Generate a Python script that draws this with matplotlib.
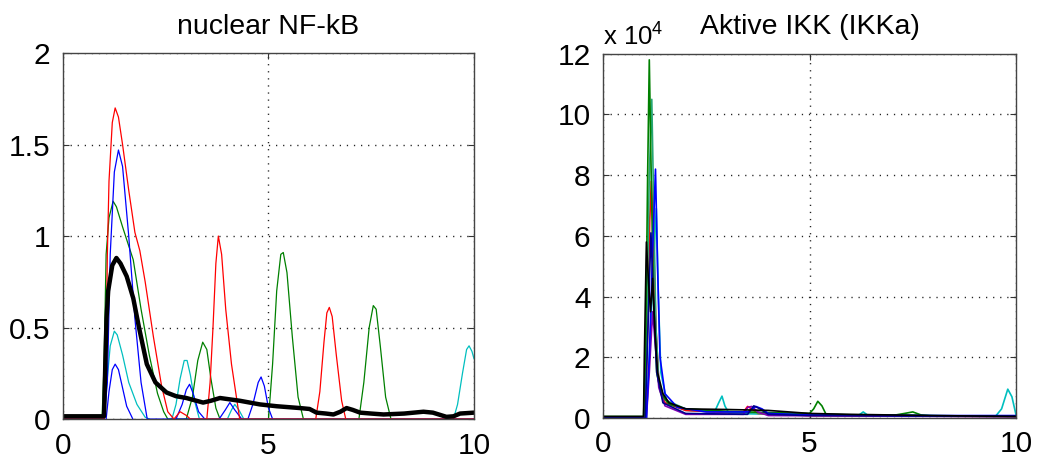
import matplotlib
matplotlib.use("Agg")
import matplotlib.pyplot as plt

plt.rcParams['font.family'] = ['Liberation Sans', 'DejaVu Sans']
plt.rcParams['mathtext.fontset'] = 'custom'
plt.rcParams['mathtext.rm'] = 'Liberation Sans'

# ---------------- data: nuclear NF-kB (left) ----------------
nf_red_a_t = [0, 1.0, 1.05, 1.08, 1.12, 1.2, 1.27, 1.35, 1.45, 1.6, 1.75, 1.87, 2.0, 2.2, 2.4, 2.55, 2.7, 2.85, 3.0, 3.1, 10]
nf_red_a_y = [0, 0, 0.35, 0.9, 1.3, 1.62, 1.70, 1.65, 1.5, 1.25, 1.02, 0.92, 0.75, 0.45, 0.18, 0.04, 0.0, 0.04, 0.02, 0.0, 0]
nf_red_b_t = [3.5, 3.58, 3.65, 3.72, 3.78, 3.86, 3.96, 4.1, 4.3]
nf_red_b_y = [0, 0.2, 0.5, 0.85, 1.0, 0.9, 0.6, 0.3, 0]
nf_red_c_t = [6.15, 6.25, 6.35, 6.42, 6.48, 6.55, 6.65, 6.78, 6.88]
nf_red_c_y = [0, 0.15, 0.42, 0.58, 0.61, 0.56, 0.35, 0.1, 0]

nf_blue_a_t = [0, 1.0, 1.08, 1.15, 1.25, 1.35, 1.45, 1.6, 1.75, 1.9, 2.05, 10]
nf_blue_a_y = [0, 0, 0.2, 0.9, 1.35, 1.47, 1.38, 1.0, 0.55, 0.2, 0, 0]
nf_blue_b_t = [1.05, 1.12, 1.2, 1.27, 1.35, 1.45, 1.55, 1.7]
nf_blue_b_y = [0, 0.15, 0.27, 0.30, 0.27, 0.17, 0.07, 0.0]
nf_blue_c_t = [2.75, 2.9, 3.0, 3.08, 3.15, 3.3, 3.45]
nf_blue_c_y = [0, 0.08, 0.16, 0.19, 0.15, 0.04, 0]
nf_blue_d_t = [4.5, 4.62, 4.75, 4.82, 4.9, 5.0, 5.1]
nf_blue_d_y = [0, 0.08, 0.2, 0.23, 0.18, 0.06, 0]
nf_blue_e_t = [3.8, 3.95, 4.06, 4.18, 4.35]
nf_blue_e_y = [0, 0.05, 0.09, 0.05, 0]

nf_green_a_t = [0, 0.95, 1.0, 1.05, 1.12, 1.22, 1.3, 1.45, 1.71, 1.9, 2.1, 2.3, 2.45, 2.55, 10]
nf_green_a_y = [0, 0, 0.3, 0.9, 1.1, 1.19, 1.16, 1.05, 0.87, 0.6, 0.35, 0.14, 0.04, 0, 0]
nf_green_b_t = [3.0, 3.15, 3.28, 3.4, 3.5, 3.6, 3.72, 3.82]
nf_green_b_y = [0, 0.12, 0.32, 0.42, 0.38, 0.22, 0.06, 0]
nf_green_c_t = [5.0, 5.1, 5.2, 5.3, 5.36, 5.45, 5.58, 5.72, 5.85]
nf_green_c_y = [0, 0.3, 0.7, 0.9, 0.91, 0.8, 0.45, 0.12, 0]
nf_green_d_t = [7.2, 7.32, 7.45, 7.55, 7.62, 7.72, 7.85, 7.98]
nf_green_d_y = [0, 0.2, 0.5, 0.62, 0.6, 0.4, 0.12, 0]

nf_cyan_a_t = [1.0, 1.07, 1.15, 1.25, 1.32, 1.45, 1.6, 1.8, 2.0, 2.1]
nf_cyan_a_y = [0, 0.2, 0.4, 0.48, 0.46, 0.35, 0.2, 0.08, 0.01, 0]
nf_cyan_b_t = [2.65, 2.75, 2.85, 2.95, 3.02, 3.1, 3.2, 3.32]
nf_cyan_b_y = [0, 0.08, 0.22, 0.32, 0.32, 0.24, 0.1, 0]
nf_cyan_c_t = [4.0, 4.1, 4.18, 4.28, 4.4]
nf_cyan_c_y = [0, 0.05, 0.08, 0.05, 0]
nf_cyan_d_t = [9.5, 9.6, 9.72, 9.82, 9.88, 9.95, 10]
nf_cyan_d_y = [0, 0.08, 0.25, 0.38, 0.40, 0.37, 0.33]

nf_mean_t = [0, 1.0, 1.03, 1.06, 1.1, 1.2, 1.3, 1.4, 1.55, 1.71, 1.85, 2.04, 2.25, 2.52, 2.75, 3.0, 3.41, 3.6, 3.82, 4.3,
             4.79, 5.2, 5.77, 6.0, 6.17, 6.4, 6.58, 6.75, 6.9, 7.05, 7.23, 7.5, 7.8, 8.3, 8.77, 9.0, 9.33, 9.5, 9.66, 10]
nf_mean_y = [0.015, 0.015, 0.3, 0.55, 0.7, 0.84, 0.88, 0.85, 0.78, 0.66, 0.5, 0.3, 0.2, 0.145, 0.125, 0.115, 0.09, 0.1, 0.115, 0.1,
             0.08, 0.07, 0.06, 0.055, 0.035, 0.03, 0.025, 0.04, 0.06, 0.05, 0.035, 0.03, 0.025, 0.03, 0.04, 0.035, 0.012, 0.015, 0.03, 0.035]

# ---------------- data: active IKK (right), in units of 10^4 ----------------
ikk_green_t = [0, 0.98, 1.03, 1.08, 1.12, 1.16, 1.22, 1.3, 1.4, 1.6, 2.0, 3.0, 4.0, 5.0, 5.1, 5.2, 5.3, 5.4, 6, 7, 7.3, 7.5, 7.7, 8, 10]
ikk_green_y = [0.05, 0.05, 2.0, 8.0, 11.8, 8.5, 4.0, 1.5, 0.8, 0.45, 0.3, 0.22, 0.18, 0.15, 0.3, 0.55, 0.4, 0.12, 0.1, 0.08, 0.15, 0.2, 0.1, 0.06, 0.05]
ikk_teal_t = [0, 1.0, 1.06, 1.12, 1.18, 1.22, 1.28, 1.35, 1.5, 2.0, 3.0, 5.0, 10]
ikk_teal_y = [0.02, 0.02, 3.0, 8.0, 10.5, 7.5, 3.0, 1.2, 0.6, 0.3, 0.2, 0.12, 0.05]
ikk_blue_t = [0, 1.05, 1.12, 1.2, 1.27, 1.32, 1.38, 1.5, 1.8, 2.5, 3.5, 3.7, 3.85, 4.0, 5, 8, 10]
ikk_blue_y = [0, 0, 2.0, 5.5, 8.2, 5.0, 2.0, 0.8, 0.35, 0.2, 0.2, 0.38, 0.3, 0.15, 0.1, 0.08, 0.08]
ikk_red_t = [0, 1.02, 1.08, 1.13, 1.17, 1.22, 1.28, 1.35, 1.5, 2.0, 3.0, 3.4, 3.5, 3.6, 3.75, 5, 10]
ikk_red_y = [0, 0, 3.0, 6.5, 7.8, 6.0, 3.0, 1.2, 0.5, 0.25, 0.18, 0.2, 0.38, 0.3, 0.15, 0.08, 0.05]
ikk_cyan_t = [0, 1.05, 1.12, 1.22, 1.29, 1.34, 1.4, 1.55, 2.0, 2.7, 2.8, 2.88, 2.95, 3.05, 5, 6.2, 6.3, 6.4, 9.5, 9.65, 9.8, 9.9, 10]
ikk_cyan_y = [0, 0, 2.0, 5.0, 6.9, 4.0, 1.5, 0.5, 0.25, 0.2, 0.5, 0.72, 0.4, 0.15, 0.1, 0.1, 0.2, 0.1, 0.05, 0.3, 0.95, 0.7, 0.1]
ikk_navy_t = [0, 1.02, 1.1, 1.16, 1.22, 1.3, 1.45, 2.0, 3.5, 3.65, 3.8, 4.0, 5, 8.3, 10]
ikk_navy_y = [0, 0, 3.5, 6.1, 4.0, 1.5, 0.5, 0.15, 0.12, 0.4, 0.3, 0.12, 0.08, 0.06, 0.06]
ikk_purple_t = [0, 1.05, 1.12, 1.2, 1.26, 1.35, 1.5, 2.0, 3.4, 3.5, 3.6, 3.75, 4.0, 10]
ikk_purple_y = [0, 0, 1.5, 3.5, 2.5, 1.0, 0.4, 0.12, 0.12, 0.35, 0.38, 0.2, 0.08, 0.04]
ikk_black_t = [0, 0.98, 1.0, 1.05, 1.1, 1.15, 1.2, 1.25, 1.32, 1.45, 1.6, 2.0, 3.0, 4.0, 5.0, 6, 7, 8, 10]
ikk_black_y = [0.05, 0.05, 2.0, 5.8, 4.5, 3.5, 4.6, 3.0, 1.5, 0.8, 0.5, 0.3, 0.28, 0.25, 0.15, 0.12, 0.1, 0.08, 0.05]

# ---------------- labels ----------------
title_left = "nuclear NF-kB"
title_right = "Aktive IKK (IKKa)"
xticks = [0, 5, 10]
yticks_left = [0, 0.5, 1, 1.5, 2]
ytick_labels_left = ["0", "0.5", "1", "1.5", "2"]
yticks_right = [0, 2, 4, 6, 8, 10, 12]
ikk_exponent = r"x 10$^{4}$"

RED = (1.0, 0.0, 0.0)
BLUE = (0.0, 0.0, 1.0)
GREEN = (0.0, 0.5, 0.0)
CYAN = (0.0, 0.75, 0.75)
TEAL = (0.15, 0.65, 0.45)
NAVY = (0.0, 0.0, 0.55)
PURPLE = (0.5, 0.0, 0.7)

fig = plt.figure(figsize=(10.39, 4.61), dpi=100)
axL = fig.add_axes([0.0606, 0.091, 0.3956, 0.794])
axR = fig.add_axes([0.5804, 0.0933, 0.3975, 0.790])

THIN = 0.9

def style(ax, yticks, ylabels, ylim):
    ax.set_xlim(0, 10)
    ax.set_ylim(*ylim)
    ax.set_xticks(xticks)
    ax.set_xticklabels([str(v) for v in xticks])
    ax.set_yticks(yticks)
    ax.set_yticklabels(ylabels)
    ax.tick_params(direction='in', length=4, width=0.8, labelsize=21.5,
                   top=True, right=True, pad=9, colors='#333333', labelcolor='black')
    ax.grid(True, color='#222222', linestyle=(0, (0.9, 4.2)), linewidth=1.0)
    for s in ax.spines.values():
        s.set_color('#444444')
        s.set_linewidth(1.0)

# left
for t, y, c in [
    (nf_cyan_a_t, nf_cyan_a_y, CYAN), (nf_cyan_b_t, nf_cyan_b_y, CYAN),
    (nf_cyan_c_t, nf_cyan_c_y, CYAN), (nf_cyan_d_t, nf_cyan_d_y, CYAN),
    (nf_green_a_t, nf_green_a_y, GREEN), (nf_green_b_t, nf_green_b_y, GREEN),
    (nf_green_c_t, nf_green_c_y, GREEN), (nf_green_d_t, nf_green_d_y, GREEN),
    (nf_blue_b_t, nf_blue_b_y, BLUE), (nf_blue_c_t, nf_blue_c_y, BLUE),
    (nf_blue_d_t, nf_blue_d_y, BLUE), (nf_blue_e_t, nf_blue_e_y, BLUE),
    (nf_blue_a_t, nf_blue_a_y, BLUE),
    (nf_red_a_t, nf_red_a_y, RED), (nf_red_b_t, nf_red_b_y, RED), (nf_red_c_t, nf_red_c_y, RED),
]:
    axL.plot(t, y, color=c, linewidth=THIN)
axL.plot(nf_mean_t, nf_mean_y, color='black', linewidth=3.2, solid_joinstyle='round')
style(axL, yticks_left, ytick_labels_left, (0, 2))
axL.set_title(title_left, fontsize=20.5, pad=14)

# right
for t, y, c in [
    (ikk_cyan_t, ikk_cyan_y, CYAN), (ikk_red_t, ikk_red_y, RED),
    (ikk_teal_t, ikk_teal_y, TEAL), (ikk_green_t, ikk_green_y, GREEN),
    (ikk_purple_t, ikk_purple_y, PURPLE),
    (ikk_blue_t, ikk_blue_y, BLUE), (ikk_navy_t, ikk_navy_y, NAVY),
    (ikk_black_t, ikk_black_y, 'black'),
]:
    axR.plot(t, y, color=c, linewidth=THIN + 0.3)
style(axR, yticks_right, [str(v) for v in yticks_right], (0, 12))
axR.set_title(title_right, fontsize=20.5, pad=14)
axR.annotate(ikk_exponent, xy=(0.0, 1.0), xycoords='axes fraction',
             xytext=(0, 6.5), textcoords='offset points', fontsize=18.5,
             ha='left', va='baseline')

fig.savefig("out.png", dpi=100)
